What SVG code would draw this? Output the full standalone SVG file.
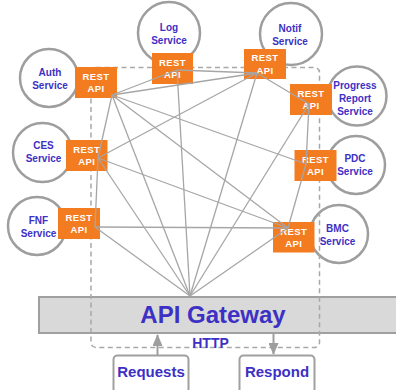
<svg xmlns="http://www.w3.org/2000/svg" width="396" height="390" viewBox="0 0 396 390">
  <defs>
    <marker id="arrow" viewBox="0 0 12 10" refX="11" refY="5" markerWidth="12" markerHeight="10" markerUnits="userSpaceOnUse" orient="auto">
      <path d="M0,0 L12,5 L0,10 Z" fill="#9e9e9e"/>
    </marker>
  </defs>
  <style>
    .svc { fill: #ffffff; stroke: #9e9e9e; stroke-width: 2.5; }
    .svc-label { font-family: "Liberation Sans", Arial, sans-serif; font-weight: bold; font-size: 10px; fill: #3d30c4; text-anchor: middle; }
    .api { fill: #f47c20; }
    .api-label { font-family: "Liberation Sans", Arial, sans-serif; font-weight: bold; font-size: 9.5px; fill: #ffffff; text-anchor: middle; letter-spacing: 0.4px; }
    .edge { stroke: #a6a6a6; stroke-width: 1.3; fill: none; }
    .boundary { fill: none; stroke: #a8a8a8; stroke-width: 1.5; stroke-dasharray: 5 3.5; }
    .gateway { fill: #d9d9d9; stroke: #a0a0a0; stroke-width: 2; }
    .gw-label { font-family: "Liberation Sans", Arial, sans-serif; font-weight: bold; font-size: 24px; fill: #3d30c4; text-anchor: middle; }
    .io { fill: #ffffff; stroke: #a0a0a0; stroke-width: 2; }
    .io-label { font-family: "Liberation Sans", Arial, sans-serif; font-weight: bold; font-size: 15px; fill: #3d30c4; text-anchor: middle; }
    .flow { stroke: #9e9e9e; stroke-width: 2; fill: none; }
  </style>

  <!-- API gateway bar -->
  <g id="gateway">
    <rect class="gateway" x="39" y="297" width="370" height="36"/>
    <text class="gw-label" x="213" y="323">API Gateway</text>
  </g>

  <!-- service circles -->
  <g id="auth-service">
    <circle class="svc" cx="49" cy="78" r="29"/>
    <text class="svc-label" x="50" y="76">Auth</text>
    <text class="svc-label" x="50" y="89">Service</text>
  </g>
  <g id="log-service">
    <circle class="svc" cx="169" cy="33" r="31"/>
    <text class="svc-label" x="169" y="31">Log</text>
    <text class="svc-label" x="169" y="44">Service</text>
  </g>
  <g id="notif-service">
    <circle class="svc" cx="291" cy="34" r="31"/>
    <text class="svc-label" x="290" y="32">Notif</text>
    <text class="svc-label" x="290" y="45">Service</text>
  </g>
  <g id="progress-service">
    <circle class="svc" cx="357" cy="96" r="29.5"/>
    <text class="svc-label" x="355" y="89">Progress</text>
    <text class="svc-label" x="355" y="102">Report</text>
    <text class="svc-label" x="355" y="115">Service</text>
  </g>
  <g id="ces-service">
    <circle class="svc" cx="42.5" cy="152.5" r="29.5"/>
    <text class="svc-label" x="43.5" y="149">CES</text>
    <text class="svc-label" x="43.5" y="162">Service</text>
  </g>
  <g id="fnf-service">
    <circle class="svc" cx="37" cy="226" r="29"/>
    <text class="svc-label" x="38.5" y="224">FNF</text>
    <text class="svc-label" x="38.5" y="237">Service</text>
  </g>
  <g id="pdc-service">
    <circle class="svc" cx="356" cy="165" r="29"/>
    <text class="svc-label" x="355" y="162">PDC</text>
    <text class="svc-label" x="355" y="175">Service</text>
  </g>
  <g id="bmc-service">
    <circle class="svc" cx="339" cy="234" r="29"/>
    <text class="svc-label" x="337.5" y="232">BMC</text>
    <text class="svc-label" x="337.5" y="245">Service</text>
  </g>

  <!-- HTTP boundary -->
  <g id="http-boundary">
    <rect class="boundary" x="91" y="67.5" width="228.5" height="280" rx="5"/>
    <text class="svc-label" x="210.5" y="348" style="font-size:14px">HTTP</text>
  </g>

  <!-- REST API endpoints -->
  <g id="auth-api">
    <rect class="api" x="75" y="67" width="42" height="31"/>
    <text class="api-label" x="96" y="79.5">REST</text>
    <text class="api-label" x="96" y="92">API</text>
  </g>
  <g id="log-api">
    <rect class="api" x="152" y="53" width="41" height="31"/>
    <text class="api-label" x="172.5" y="65.5">REST</text>
    <text class="api-label" x="172.5" y="78">API</text>
  </g>
  <g id="notif-api">
    <rect class="api" x="244" y="49" width="42" height="30"/>
    <text class="api-label" x="265" y="61">REST</text>
    <text class="api-label" x="265" y="73.5">API</text>
  </g>
  <g id="progress-api">
    <rect class="api" x="290" y="84" width="42" height="31"/>
    <text class="api-label" x="311" y="96.5">REST</text>
    <text class="api-label" x="311" y="109">API</text>
  </g>
  <g id="ces-api">
    <rect class="api" x="66" y="140" width="41.5" height="31"/>
    <text class="api-label" x="86.75" y="152.5">REST</text>
    <text class="api-label" x="86.75" y="165">API</text>
  </g>
  <g id="fnf-api">
    <rect class="api" x="58" y="208" width="42" height="31"/>
    <text class="api-label" x="79" y="220.5">REST</text>
    <text class="api-label" x="79" y="233">API</text>
  </g>
  <g id="pdc-api">
    <rect class="api" x="294.5" y="150" width="42" height="31"/>
    <text class="api-label" x="315.5" y="162.5">REST</text>
    <text class="api-label" x="315.5" y="175">API</text>
  </g>
  <g id="bmc-api">
    <rect class="api" x="273" y="222" width="41.5" height="30.5"/>
    <text class="api-label" x="293.75" y="234.5">REST</text>
    <text class="api-label" x="293.75" y="247">API</text>
  </g>

  <!-- service-to-service and gateway links -->
  <g id="connectors">
    <line class="edge" x1="112" y1="95" x2="177" y2="70"/>
    <line class="edge" x1="112" y1="95" x2="257" y2="73"/>
    <line class="edge" x1="112" y1="95" x2="98" y2="158"/>
    <line class="edge" x1="112" y1="95" x2="306" y2="164"/>
    <line class="edge" x1="112" y1="95" x2="288" y2="228"/>
    <line class="edge" x1="112" y1="95" x2="190" y2="296"/>
    <line class="edge" x1="177" y1="70" x2="257" y2="73"/>
    <line class="edge" x1="177" y1="70" x2="190" y2="296"/>
    <line class="edge" x1="257" y1="73" x2="309" y2="104"/>
    <line class="edge" x1="257" y1="73" x2="98" y2="158"/>
    <line class="edge" x1="257" y1="73" x2="190" y2="296"/>
    <line class="edge" x1="309" y1="104" x2="306" y2="164"/>
    <line class="edge" x1="309" y1="104" x2="190" y2="296"/>
    <line class="edge" x1="98" y1="158" x2="95" y2="227"/>
    <line class="edge" x1="98" y1="158" x2="288" y2="228"/>
    <line class="edge" x1="98" y1="158" x2="190" y2="296"/>
    <line class="edge" x1="95" y1="227" x2="288" y2="228"/>
    <line class="edge" x1="95" y1="227" x2="190" y2="296"/>
    <line class="edge" x1="306" y1="164" x2="288" y2="228"/>
    <line class="edge" x1="288" y1="228" x2="190" y2="296"/>
  </g>

  <!-- request / response endpoints -->
  <g id="requests">
    <rect class="io" x="113.5" y="355.5" width="75" height="42" rx="4"/>
    <text class="io-label" x="151" y="377">Requests</text>
  </g>
  <g id="respond">
    <rect class="io" x="239.5" y="355.5" width="75" height="42" rx="4"/>
    <text class="io-label" x="277" y="377">Respond</text>
  </g>
  <g id="flows">
    <line class="flow" x1="157.5" y1="355" x2="157.5" y2="335" marker-end="url(#arrow)"/>
    <line class="flow" x1="273.5" y1="334" x2="273.5" y2="354" marker-end="url(#arrow)"/>
  </g>
</svg>
